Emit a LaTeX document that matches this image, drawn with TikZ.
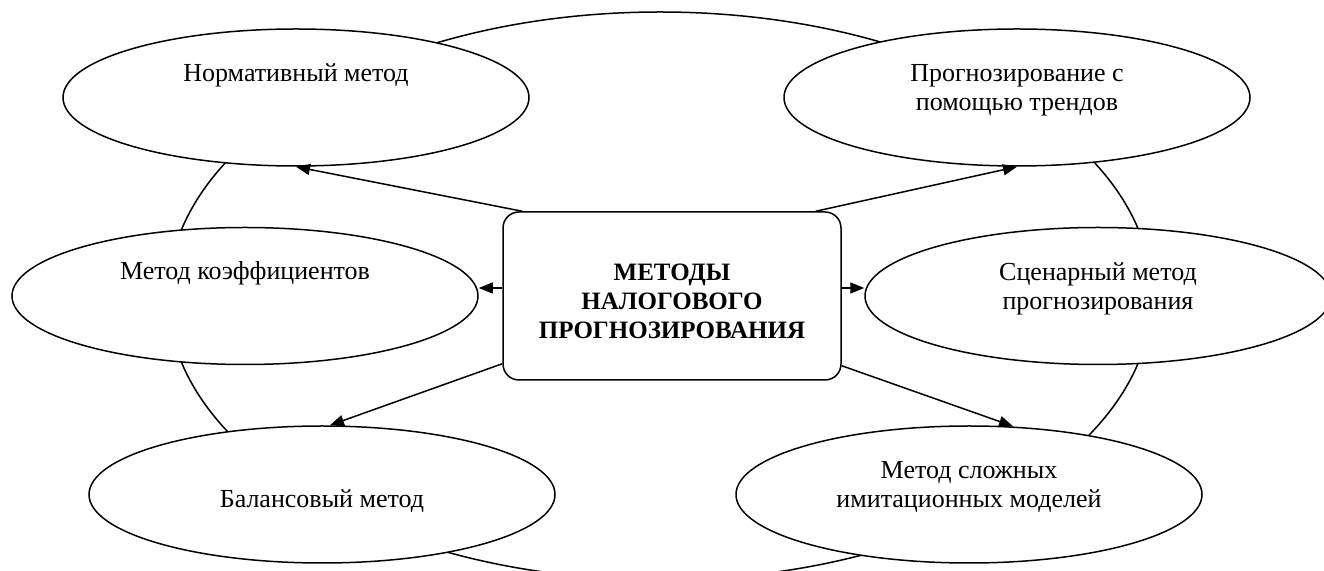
\documentclass[tikz,border=0pt]{standalone}
\usepackage{fontspec}
\setmainfont{Liberation Serif}
\usetikzlibrary{arrows.meta,shapes.geometric}
\tikzset{
  ring/.style={draw=black, line width=0.75pt, ellipse, inner sep=0pt,
    minimum width=492pt, minimum height=284pt},
  method/.style={draw=black, fill=white, line width=0.75pt, ellipse,
    inner sep=0pt, minimum width=233pt, minimum height=68.5pt},
  methtext/.style={align=center, inner sep=0pt,
    font=\fontsize{13}{14.5}\selectfont},
  core/.style={draw=black, fill=white, line width=0.75pt, rounded corners=8pt,
    minimum width=169pt, minimum height=84pt, align=center,
    font=\fontsize{12.5}{14.5}\selectfont\bfseries},
  link/.style={-{Triangle[length=7pt,width=5.5pt]}, line width=0.75pt},
}
\begin{document}
\begin{tikzpicture}[x=0.5pt,y=-0.5pt]
  \useasboundingbox (0,0) rectangle (1324,571);
  %% outer ring behind everything
  \node[ring] (ring) at (660,296) {};
  %% six methods
  \node[method] (norm)  at (296,97.5)  {};
  \node[method] (trend) at (1017,97.5) {};
  \node[method] (coef)  at (245,296)   {};
  \node[method] (scen)  at (1098,296)  {};
  \node[method] (bal)   at (322,494.5) {};
  \node[method] (imit)  at (969,494.5) {};
  \node[methtext] (normt)  at (296,75)   {Нормативный метод};
  \node[methtext] (trendt) at (1017,90)  {Прогнозирование с\\помощью трендов};
  \node[methtext] (coeft)  at (245,273)  {Метод коэффициентов};
  \node[methtext] (scent)  at (1098,288.5) {Сценарный метод\\прогнозирования};
  \node[methtext] (balt)   at (322,501)  {Балансовый метод};
  \node[methtext] (imitt)  at (969,487)  {Метод сложных\\имитационных моделей};
  %% centre
  \node[core] (core) at (672,296) {\\[-1pt]МЕТОДЫ\\НАЛОГОВОГО\\ПРОГНОЗИРОВАНИЯ};
  %% arrows
  \draw[link] ([xshift=10pt]core.north west) -- (norm.south);
  \draw[link] ([xshift=-13pt]core.north east) -- (trend.south);
  \draw[link] ([yshift=4pt]core.west) -- ([yshift=4pt]coef.east);
  \draw[link] ([yshift=4pt]core.east) -- ([yshift=4pt]scen.west);
  \draw[link] ([yshift=8.5pt]core.south west) -- ([xshift=4pt]bal.north);
  \draw[link] ([yshift=7.5pt]core.south east) -- ([xshift=22pt,yshift=-0.5pt]imit.north);
\end{tikzpicture}
\end{document}
